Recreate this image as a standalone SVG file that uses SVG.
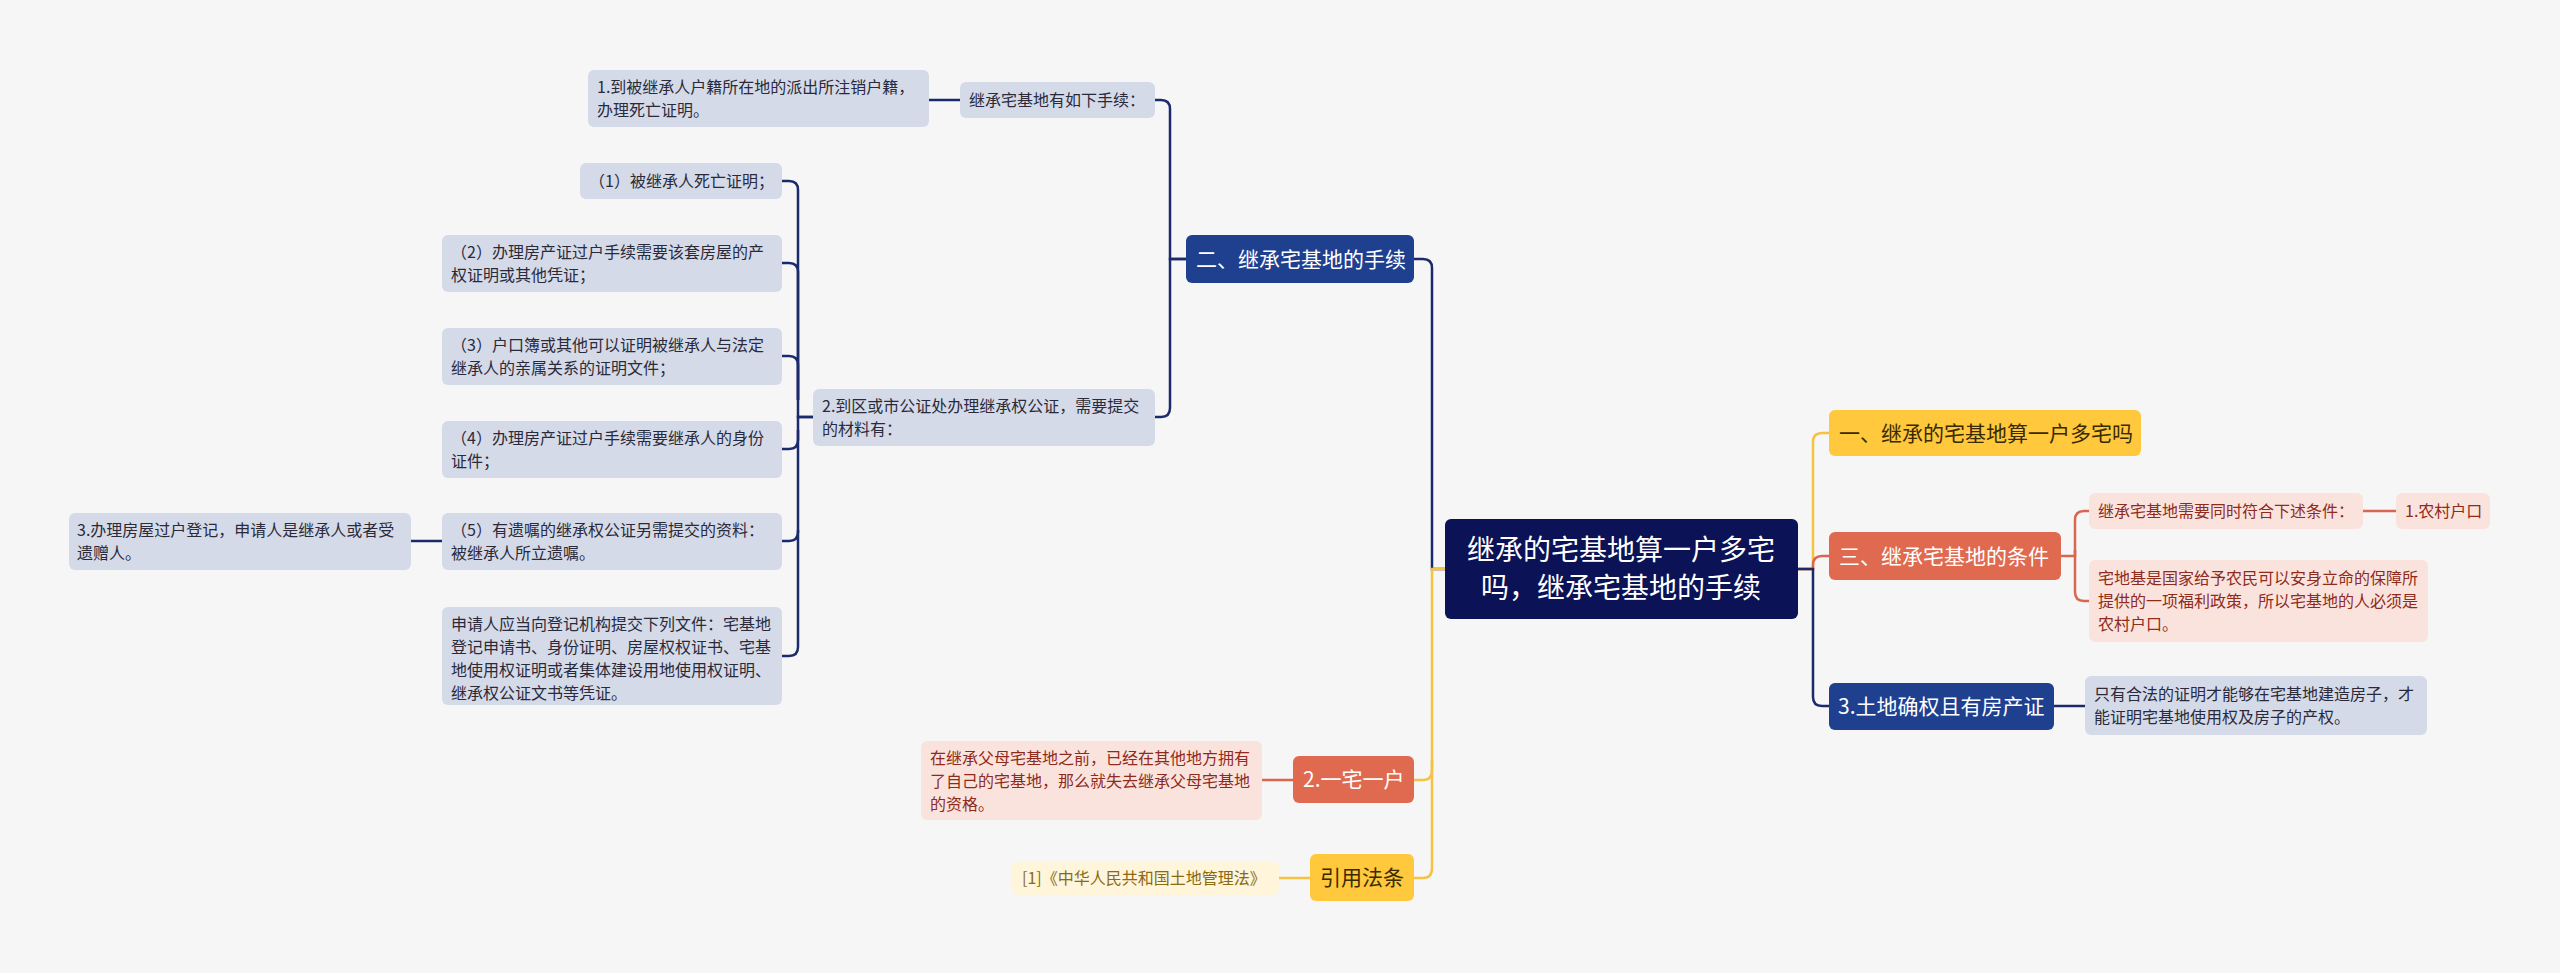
<svg xmlns="http://www.w3.org/2000/svg" width="2560" height="973" viewBox="0 0 2560 973">
<style>
text{font-family:"Noto Sans CJK SC","Liberation Sans",sans-serif}
.s{font-size:16px}
.l1{font-size:21px}
.bl{fill:#D5DAE8}.blt{fill:#2a2a3a}
.pk{fill:#FBE3DD}.pkt{fill:#8E2B1C}
.yl{fill:#FEF5DA}.ylt{fill:#8A6A12}
.c{fill:none;stroke-width:2.5}
.nv{stroke:#1B2A6B}.or{stroke:#D9664E}.yw{stroke:#F5C242}
</style>
<rect width="2560" height="973" fill="#F6F6F6"/>
<g id="connectors">
<path class="c nv" d="M1445 569 H1432 V268 Q1432 259 1423 259 H1414"/>
<path class="c yw" d="M1445 569 H1432 V770 Q1432 780 1423 780 H1414"/>
<path class="c yw" d="M1432 760 V868 Q1432 878 1423 878 H1414"/>
<path class="c yw" d="M1798 569 H1813 V442 Q1813 433 1822 433 H1829"/>
<path class="c or" d="M1798 569 H1813 V565 Q1813 556 1822 556 H1829"/>
<path class="c nv" d="M1798 569 H1813 V697 Q1813 706 1822 706 H1829"/>
<path class="c or" d="M2061 556 H2075 V520 Q2075 511 2084 511 H2089"/>
<path class="c or" d="M2075 550 V592 Q2075 601 2084 601 H2089"/>
<path class="c or" d="M2363 511 H2396"/>
<path class="c nv" d="M2054 706 H2085"/>
<path class="c nv" d="M1186 259 H1170 V109 Q1170 100 1161 100 H1155"/>
<path class="c nv" d="M1186 259 H1170 V408 Q1170 417 1161 417 H1155"/>
<path class="c nv" d="M960 100 H929"/>
<path class="c nv" d="M813 417 H798 V190 Q798 181 789 181 H782"/>
<path class="c nv" d="M798 400 V272 Q798 263 789 263 H782"/>
<path class="c nv" d="M798 400 V365 Q798 356 789 356 H782"/>
<path class="c nv" d="M813 417 H798 V440 Q798 449 789 449 H782"/>
<path class="c nv" d="M798 430 V532 Q798 541 789 541 H782"/>
<path class="c nv" d="M798 530 V647 Q798 656 789 656 H782"/>
<path class="c nv" d="M442 541 H411"/>
<path class="c or" d="M1293 780 H1262"/>
<path class="c yw" d="M1310 878 H1279"/>
</g>
<g id="root"><rect x="1445" y="519" width="353" height="100" rx="6" fill="#0B1256"/>
<text x="1621" y="560" font-size="28" fill="#fff" text-anchor="middle">继承的宅基地算一户多宅</text>
<text x="1621" y="598" font-size="28" fill="#fff" text-anchor="middle">吗，继承宅基地的手续</text></g>
<g id="n1"><rect x="1829" y="410" width="312" height="46" rx="6" fill="#FFC83D"/><text class="l1" x="1839" y="441" fill="#3a2a00">一、继承的宅基地算一户多宅吗</text></g>
<g id="n3"><rect x="1829" y="532" width="232" height="48" rx="6" fill="#E06A50"/><text class="l1" x="1839" y="564" fill="#fff">三、继承宅基地的条件</text></g>
<g id="n3a"><rect x="2089" y="493" width="274" height="36" rx="6" class="pk"/><text class="s pkt" x="2098" y="517">继承宅基地需要同时符合下述条件：</text></g>
<g id="n3a1"><rect x="2396" y="493" width="94" height="36" rx="6" class="pk"/><text class="s pkt" x="2405" y="517">1.农村户口</text></g>
<g id="n3b"><rect x="2089" y="560" width="339" height="82" rx="6" class="pk"/>
<text class="s pkt" x="2098" y="584">宅地基是国家给予农民可以安身立命的保障所</text>
<text class="s pkt" x="2098" y="607">提供的一项福利政策，所以宅基地的人必须是</text>
<text class="s pkt" x="2098" y="630">农村户口。</text></g>
<g id="n4"><rect x="1829" y="683" width="225" height="47" rx="6" fill="#1F3F8F"/><text class="l1" x="1838" y="714" fill="#fff">3.土地确权且有房产证</text></g>
<g id="n4a"><rect x="2085" y="676" width="342" height="59" rx="6" class="bl"/>
<text class="s blt" x="2094" y="700">只有合法的证明才能够在宅基地建造房子，才</text>
<text class="s blt" x="2094" y="723">能证明宅基地使用权及房子的产权。</text></g>
<g id="n2"><rect x="1186" y="235" width="228" height="48" rx="6" fill="#1F3F8F"/><text class="l1" x="1196" y="267" fill="#fff">二、继承宅基地的手续</text></g>
<g id="n2a"><rect x="960" y="82" width="195" height="36" rx="6" class="bl"/><text class="s blt" x="969" y="106">继承宅基地有如下手续：</text></g>
<g id="n2a1"><rect x="588" y="70" width="341" height="57" rx="6" class="bl"/>
<text class="s blt" x="597" y="93">1.到被继承人户籍所在地的派出所注销户籍，</text>
<text class="s blt" x="597" y="116">办理死亡证明。</text></g>
<g id="n2b"><rect x="813" y="389" width="342" height="57" rx="6" class="bl"/>
<text class="s blt" x="822" y="412">2.到区或市公证处办理继承权公证，需要提交</text>
<text class="s blt" x="822" y="435">的材料有：</text></g>
<g id="b1"><rect x="580" y="163" width="202" height="36" rx="6" class="bl"/><text class="s blt" x="589" y="187">（1）被继承人死亡证明；</text></g>
<g id="b2"><rect x="442" y="235" width="340" height="57" rx="6" class="bl"/>
<text class="s blt" x="451" y="258">（2）办理房产证过户手续需要该套房屋的产</text>
<text class="s blt" x="451" y="281">权证明或其他凭证；</text></g>
<g id="b3"><rect x="442" y="328" width="340" height="57" rx="6" class="bl"/>
<text class="s blt" x="451" y="351">（3）户口簿或其他可以证明被继承人与法定</text>
<text class="s blt" x="451" y="374">继承人的亲属关系的证明文件；</text></g>
<g id="b4"><rect x="442" y="421" width="340" height="57" rx="6" class="bl"/>
<text class="s blt" x="451" y="444">（4）办理房产证过户手续需要继承人的身份</text>
<text class="s blt" x="451" y="467">证件；</text></g>
<g id="b5"><rect x="442" y="513" width="340" height="57" rx="6" class="bl"/>
<text class="s blt" x="451" y="536">（5）有遗嘱的继承权公证另需提交的资料：</text>
<text class="s blt" x="451" y="559">被继承人所立遗嘱。</text></g>
<g id="b5a"><rect x="69" y="513" width="342" height="57" rx="6" class="bl"/>
<text class="s blt" x="77" y="536">3.办理房屋过户登记，申请人是继承人或者受</text>
<text class="s blt" x="77" y="559">遗赠人。</text></g>
<g id="b6"><rect x="442" y="607" width="340" height="98" rx="6" class="bl"/>
<text class="s blt" x="451" y="630">申请人应当向登记机构提交下列文件：宅基地</text>
<text class="s blt" x="451" y="653">登记申请书、身份证明、房屋权权证书、宅基</text>
<text class="s blt" x="451" y="676">地使用权证明或者集体建设用地使用权证明、</text>
<text class="s blt" x="451" y="699">继承权公证文书等凭证。</text></g>
<g id="n5"><rect x="1293" y="756" width="121" height="47" rx="6" fill="#E06A50"/><text class="l1" x="1303" y="787" fill="#fff">2.一宅一户</text></g>
<g id="n5a"><rect x="921" y="741" width="341" height="79" rx="6" class="pk"/>
<text class="s pkt" x="930" y="764">在继承父母宅基地之前，已经在其他地方拥有</text>
<text class="s pkt" x="930" y="787">了自己的宅基地，那么就失去继承父母宅基地</text>
<text class="s pkt" x="930" y="810">的资格。</text></g>
<g id="n6"><rect x="1310" y="854" width="104" height="47" rx="6" fill="#FFC83D"/><text class="l1" x="1320" y="885" fill="#3a2a00">引用法条</text></g>
<g id="n6a"><rect x="1012" y="862" width="267" height="33" rx="6" class="yl"/><text class="s ylt" x="1022" y="884">[1]《中华人民共和国土地管理法》</text></g>
</svg>
